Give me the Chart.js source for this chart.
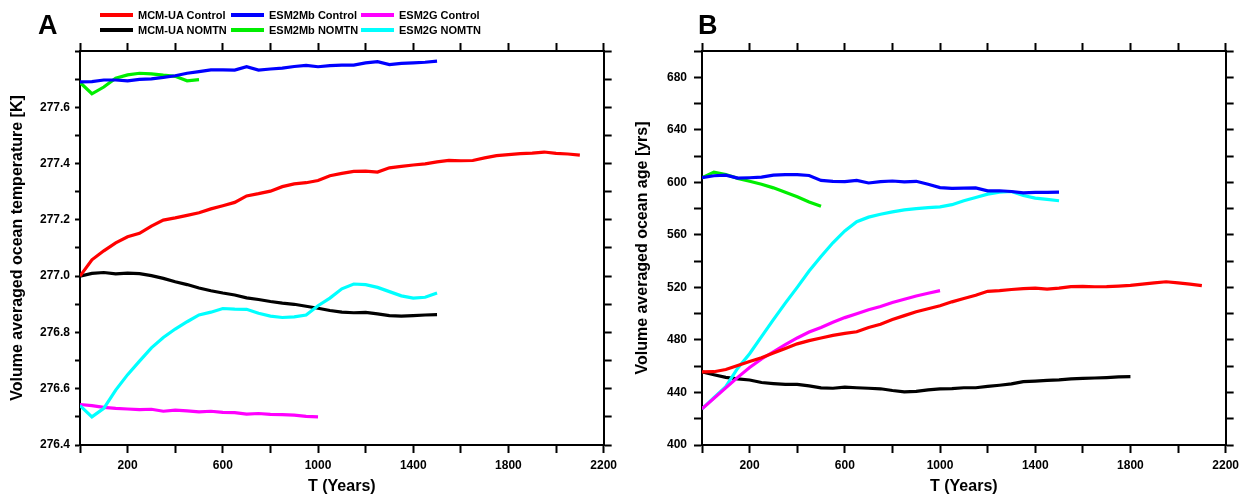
<!DOCTYPE html>
<html>
<head>
<meta charset="utf-8">
<title>Ocean temperature and ocean age</title>
<script src="https://cdn.jsdelivr.net/npm/chart.js@4.4.1/dist/chart.umd.min.js"></script>
<style>
  html, body { margin: 0; padding: 0; background: #fff; }
  body {
    width: 1244px; height: 496px; position: relative; overflow: hidden;
    font-family: 'Liberation Sans', Arial, sans-serif; color: #000;
  }
  .panel  { position: absolute; top: 0; width: 622px; height: 496px; }
  .tag    { position: absolute; top: 12px; font-size: 27px; line-height: 27px; font-weight: bold; }
  .legend {
    position: absolute; left: 100px; top: 7px;
    display: grid; grid-template-columns: 131px 130px auto;
    font-size: 11px; font-weight: bold;
  }
  .item   { display: flex; align-items: center; height: 15px; white-space: nowrap; }
  .swatch { width: 33px; height: 4px; margin-right: 5px; }
</style>
</head>
<body>

<canvas id="chartA" class="panel" style="left:0" width="622" height="496"></canvas>
<canvas id="chartB" class="panel" style="left:622px" width="622" height="496"></canvas>

<div class="tag" style="left:38px">A</div>
<div class="tag" style="left:698px">B</div>
<div class="legend" id="legend"></div>

<script>
// ── Data ─────────────────────────────────────────────────────
const YEARS = [
  0, 50, 100, 150, 200, 250, 300, 350, 400, 450, 500, 550, 600, 650, 700,
  750, 800, 850, 900, 950, 1000, 1050, 1100, 1150, 1200, 1250, 1300, 1350,
  1400, 1450, 1500, 1550, 1600, 1650, 1700, 1750, 1800, 1850, 1900, 1950,
  2000, 2050, 2100
];

const SERIES_NAMES  = ['MCM-UA Control', 'ESM2Mb Control', 'ESM2G Control',
                       'MCM-UA NOMTN', 'ESM2Mb NOMTN', 'ESM2G NOMTN'];
const SERIES_COLORS = ['#ff0000', '#0000ff', '#ff00ff', '#000000', '#00ee00', '#00ffff'];

const YEAR_LABELS = ['200', '600', '1000', '1400', '1800', '2200'];
const TEMP_LABELS = ['276.4', '276.6', '276.8', '277.0', '277.2', '277.4', '277.6'];
const AGE_LABELS  = ['400', '440', '480', '520', '560', '600', '640', '680'];

// Panel A: volume averaged ocean temperature [K]
const tempMcmControl = [
  277.000, 277.058, 277.090, 277.118, 277.140, 277.152, 277.178, 277.199, 277.207, 277.216,
  277.225, 277.239, 277.250, 277.262, 277.285, 277.293, 277.302, 277.318, 277.328, 277.332,
  277.340, 277.357, 277.365, 277.372, 277.373, 277.370, 277.385, 277.390, 277.395, 277.399,
  277.406, 277.411, 277.410, 277.411, 277.420, 277.428, 277.432, 277.435, 277.437, 277.441,
  277.436, 277.434, 277.430
];
const tempEsm2mbControl = [
  277.690, 277.691, 277.697, 277.697, 277.694, 277.699, 277.701, 277.706, 277.712, 277.721,
  277.727, 277.733, 277.733, 277.732, 277.744, 277.732, 277.736, 277.739, 277.745, 277.749,
  277.744, 277.748, 277.750, 277.750, 277.758, 277.762, 277.752, 277.756, 277.758, 277.760,
  277.764
];
const tempEsm2gControl = [
  276.544, 276.540, 276.534, 276.530, 276.528, 276.526, 276.527, 276.520, 276.524, 276.521,
  276.518, 276.520, 276.516, 276.515, 276.510, 276.512, 276.509, 276.508, 276.506, 276.502,
  276.500
];
const tempMcmNomtn = [
  277.000, 277.010, 277.013, 277.008, 277.011, 277.009, 277.002, 276.992, 276.980, 276.970,
  276.958, 276.948, 276.940, 276.933, 276.923, 276.917, 276.910, 276.904, 276.900, 276.893,
  276.886, 276.878, 276.872, 276.870, 276.871, 276.866, 276.860, 276.858, 276.860, 276.862,
  276.863
];
const tempEsm2mbNomtn = [
  277.688, 277.648, 277.672, 277.703, 277.715, 277.721, 277.719, 277.714, 277.710, 277.694,
  277.698
];
const tempEsm2gNomtn = [
  276.540, 276.500, 276.530, 276.595, 276.650, 276.698, 276.745, 276.782, 276.812, 276.838,
  276.862, 276.872, 276.885, 276.883, 276.882, 276.868, 276.858, 276.853, 276.855, 276.862,
  276.895, 276.922, 276.955, 276.972, 276.970, 276.960, 276.945, 276.930, 276.922, 276.925,
  276.940
];

// Panel B: volume averaged ocean age [yrs]
const ageMcmControl = [
  455.7, 455.8, 457.5, 460.5, 463.5, 466.5, 470.0, 473.5, 477.0, 479.5,
  481.5, 483.5, 485.0, 486.2, 489.5, 492.0, 495.5, 498.5, 501.5, 503.8,
  506.0, 509.0, 511.5, 514.0, 517.0, 517.5, 518.4, 519.0, 519.5, 518.7,
  519.5, 520.6, 520.8, 520.5, 520.6, 521.0, 521.5, 522.5, 523.5, 524.3,
  523.5, 522.5, 521.3
];
const ageEsm2mbControl = [
  603.5, 605.0, 605.5, 603.2, 603.5, 604.0, 605.5, 605.8, 605.8, 605.2,
  601.5, 600.8, 600.6, 601.5, 599.5, 600.6, 601.0, 600.4, 600.8, 598.5,
  596.0, 595.4, 595.6, 595.8, 593.5, 593.6, 593.0, 592.0, 592.4, 592.3,
  592.5
];
const ageEsm2gControl = [
  427.5, 435.5, 443.5, 451.5, 459.0, 465.5, 471.0, 476.5, 481.5, 486.0,
  489.5, 493.5, 497.0, 500.0, 503.0, 505.5, 508.5, 511.0, 513.5, 515.5,
  517.5
];
const ageMcmNomtn = [
  455.7, 453.5, 451.5, 450.3, 449.5, 447.6, 446.8, 446.2, 446.2, 445.0,
  443.5, 443.2, 444.0, 443.6, 443.2, 442.8, 441.5, 440.5, 440.8, 442.0,
  442.8, 443.0, 443.6, 443.6, 444.6, 445.5, 446.5, 448.3, 448.7, 449.2,
  449.6, 450.3, 450.7, 451.0, 451.3, 451.8, 452.0
];
const ageEsm2mbNomtn = [
  603.5, 607.8, 606.0, 603.0, 600.8, 598.6, 595.8, 592.5, 589.0, 585.0,
  581.7
];
const ageEsm2gNomtn = [
  427.5, 436.0, 444.5, 458.5, 469.5, 482.5, 495.5, 508.0, 520.0, 532.5,
  543.5, 554.0, 563.0, 570.0, 573.5, 575.7, 577.5, 579.0, 580.0, 580.8,
  581.3, 583.0, 586.0, 588.5, 591.0, 592.5, 593.0, 590.0, 588.0, 587.0,
  586.0
];

// ── Shared styling ───────────────────────────────────────────
const FONT     = "'Liberation Sans', Arial, sans-serif";
const tickFont = { family: FONT, size: 12, weight: 'bold' };
const border   = { color: '#000', width: 2 };

function tickGrid(len) {
  return { drawOnChartArea: false, drawTicks: true, tickLength: len,
           tickWidth: 2, tickColor: '#000', color: '#000' };
}

function toPoints(values) {
  return values.map((v, i) => ({ x: YEARS[i], y: v }));
}

// ── Chart builder ────────────────────────────────────────────
function buildPanel(canvasId, seriesList, y) {
  const datasets = seriesList.map(s => ({
    label:       SERIES_NAMES[s.idx],
    data:        toPoints(s.values),
    borderColor: SERIES_COLORS[s.idx],
    borderWidth: 3.2,
    pointRadius: 0,
    tension:     0,
    fill:        false
  }));

  const xBase = { type: 'linear', min: 0, max: 2200, border: border };
  const yBase = { type: 'linear', min: y.min, max: y.max, border: border };

  return new Chart(document.getElementById(canvasId), {
    type: 'line',
    data: { datasets },
    options: {
      responsive: false,
      animation: false,
      devicePixelRatio: 1,
      layout: { padding: { top: 40, left: 0, right: 0, bottom: 0 } },
      plugins: { legend: { display: false }, tooltip: { enabled: false } },
      scales: {
        x: Object.assign({}, xBase, {
          position: 'bottom',
          ticks: {
            stepSize: 200, autoSkip: false, maxRotation: 0, padding: 5,
            color: '#000', font: tickFont,
            callback: v => YEAR_LABELS.includes(String(v)) ? String(v) : ''
          },
          grid: tickGrid(8),
          title: { display: true, text: 'T (Years)', color: '#000',
                   font: { family: FONT, size: 16, weight: 'bold' },
                   padding: { top: 0, bottom: 0 } },
          afterFit: s => { s.height = 51; }
        }),
        xTop: Object.assign({}, xBase, {
          position: 'top',
          ticks: { stepSize: 200, display: false },
          grid: tickGrid(8),
          afterFit: s => { s.height = 11; }
        }),
        y: Object.assign({}, yBase, {
          position: 'left',
          ticks: {
            stepSize: y.step, autoSkip: false, padding: y.labelPad,
            color: '#000', font: tickFont,
            callback: v => {
              const t = v.toFixed(y.digits);
              return y.labels.includes(t) ? t : '';
            }
          },
          grid: tickGrid(y.tick),
          title: { display: true, text: y.title, color: '#000',
                   font: { family: FONT, size: 16, weight: 'bold' },
                   padding: { top: y.titlePad, bottom: 0 } },
          afterFit: s => { s.width = 80; }
        }),
        yRight: Object.assign({}, yBase, {
          position: 'right',
          ticks: { stepSize: y.step, display: false },
          grid: tickGrid(8),
          afterFit: s => { s.width = y.right; }
        })
      }
    }
  });
}

// ── Legend (HTML, above panel A) ─────────────────────────────
function buildLegend() {
  const box = document.getElementById('legend');
  SERIES_NAMES.forEach((name, i) => {
    const item = document.createElement('div');
    item.className = 'item';
    const sw = document.createElement('span');
    sw.className = 'swatch';
    sw.style.background = SERIES_COLORS[i];
    const txt = document.createElement('span');
    txt.textContent = name;
    item.appendChild(sw);
    item.appendChild(txt);
    box.appendChild(item);
  });
}

// ── Boot ─────────────────────────────────────────────────────
buildLegend();

buildPanel('chartA', [
  { idx: 0, values: tempMcmControl },
  { idx: 1, values: tempEsm2mbControl },
  { idx: 5, values: tempEsm2gNomtn },
  { idx: 3, values: tempMcmNomtn },
  { idx: 4, values: tempEsm2mbNomtn },
  { idx: 2, values: tempEsm2gControl }
], {
  min: 276.4, max: 277.8, step: 0.1, digits: 1, labels: TEMP_LABELS,
  tick: 5, labelPad: 5, titlePad: 8, right: 16,
  title: 'Volume averaged ocean temperature [K]'
});

buildPanel('chartB', [
  { idx: 0, values: ageMcmControl },
  { idx: 1, values: ageEsm2mbControl },
  { idx: 2, values: ageEsm2gControl },
  { idx: 5, values: ageEsm2gNomtn },
  { idx: 3, values: ageMcmNomtn },
  { idx: 4, values: ageEsm2mbNomtn }
], {
  min: 400, max: 700, step: 20, digits: 0, labels: AGE_LABELS,
  tick: 8, labelPad: 7, titlePad: 11, right: 14,
  title: 'Volume averaged ocean age [yrs]'
});
</script>
</body>
</html>
